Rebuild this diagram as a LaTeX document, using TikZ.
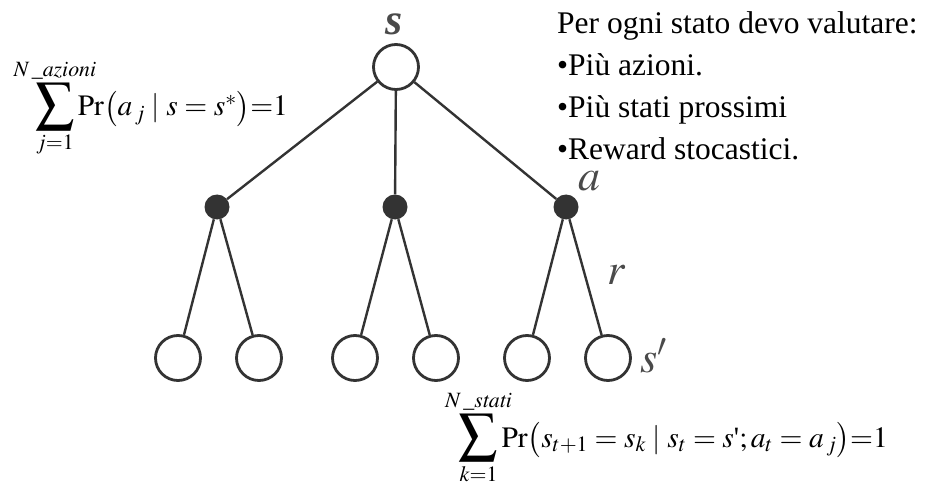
\documentclass[tikz,border=0pt]{standalone}
\usepackage{mathptmx}
\usepackage{mathtools}
\usepackage{graphicx}
\usepackage[no-math]{fontspec}
\setmainfont{Liberation Serif}
\usetikzlibrary{positioning}
\definecolor{ink}{HTML}{333333}
\definecolor{lblgray}{HTML}{4A4A4A}
% big sigma with limits that take no width
\newcommand{\bigsum}[2]{\mathop{\scalebox{1.3}{$\displaystyle\sum$}}\limits_{\mathclap{#1}}^{\mathclap{#2}}}

\begin{document}
\begin{tikzpicture}[x=1pt,y=-1pt,
      state/.style={circle,draw=ink,line width=2.8pt,minimum size=45pt,inner sep=0pt},
      act/.style={circle,fill=ink,minimum size=25pt,inner sep=0pt},
      link/.style={draw=ink,line width=2.4pt},
      lbl/.style={text=lblgray,inner sep=0pt,font=\fontsize{44}{44}\selectfont},
      txt/.style={anchor=base west,inner sep=0pt,font=\fontsize{31.5}{36}\selectfont},
      eq/.style={inner sep=0pt,font=\fontsize{29.5}{36}\selectfont}]
    \useasboundingbox (0,0) rectangle (927,484);
    % tree
    \node[state] (root) at (396,67) {};
    \foreach \x [count=\i] in {217,395,566}
      \node[act] (a\i) at (\x,207) {};
    \foreach \x [count=\i] in {178,259,355,436,527,608}
      \node[state] (l\i) at (\x,358) {};
    \foreach \i in {1,2,3}
      \draw[link] (root) -- (a\i);
    \foreach \i/\j in {1/1,1/2,2/3,2/4,3/5,3/6}
      \draw[link] (a\i) -- (l\j);
    % labels
    \node[lbl,anchor=base] (ls) at (394,35) {\textbf{\textit{s}}};
    \node[lbl,anchor=base] (la) at (589,191) {$a$};
    \node[lbl,anchor=base] (lr) at (617,284) {$r$};
    \node[lbl,anchor=base west] (lsp) at (640,372) {$s'$};
    % notes
    \foreach \t [count=\i] in {Per ogni stato devo valutare:,•Più azioni.,•Più stati prossimi,•Reward stocastici.}
      \node[txt] (note\i) at (557,{34+42*(\i-1)}) {\t};
    \node[eq,anchor=base west] (eqa) at (35,116)
      {$\bigsum{j=1}{N\,\_\mathit{azioni}}\mathrm{Pr}\bigl(a_{\,j} \mid s=s^{*}\bigr){=}1$};
    \node[eq,anchor=base east] (eqs) at (888,447)
      {$\bigsum{k=1}{N\,\_\mathit{stati}}\mathrm{Pr}\bigl(s_{t+1}=s_k \mid s_t=s\mbox{\textquotesingle};a_t=a_{\,j}\bigr){=}1$};
  \end{tikzpicture}
\end{document}
